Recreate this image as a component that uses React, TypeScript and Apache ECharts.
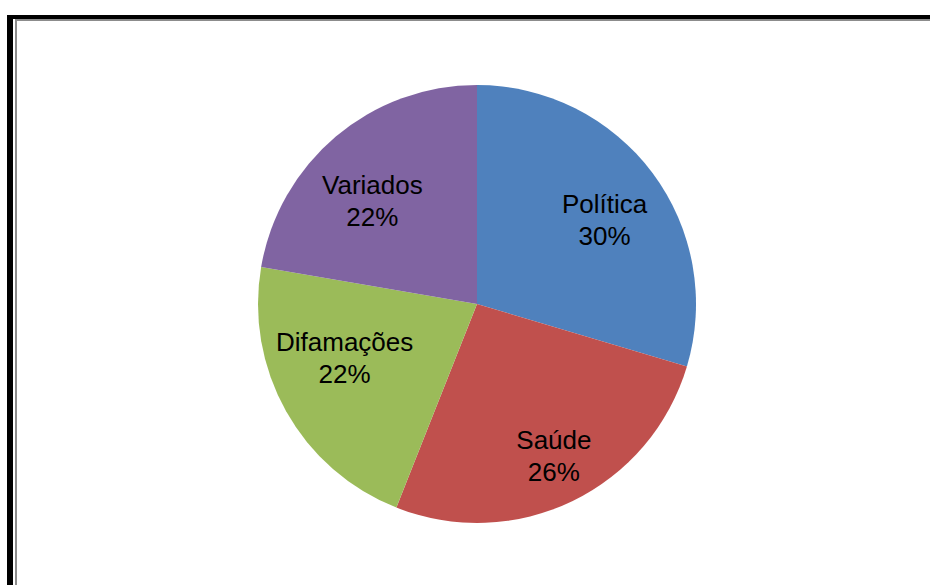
import React, { useEffect, useRef } from "react";
import * as echarts from "echarts";

const categories = ["Política", "Saúde", "Difamações", "Variados"];
const values = [29.6, 26.4, 21.7, 22.3];
const colors = ["#4F81BD", "#C0504D", "#9BBB59", "#8064A2"];
// small label nudges (px) to mimic the original's label placement
const labelNudgeX = [5, 10, 1, -6];
const labelNudgeY = [7, 14, -21, 14];

export default function App() {
  const ref = useRef<HTMLDivElement>(null);
  useEffect(() => {
    if (!ref.current) return;
    const chart = echarts.init(ref.current, undefined, { renderer: "svg" });
    const data = categories.map((name, i) => ({
      name,
      value: values[i],
      itemStyle: { color: colors[i] },
    }));
    const total = values.reduce((a, b) => a + b, 0);
    chart.setOption({
      animation: false,
      backgroundColor: "#ffffff",
      graphic: [
        { type: "rect", z: 0, silent: true, shape: { x: 7, y: 15, width: 1000, height: 1000 }, style: { fill: "#000000" } },
        { type: "rect", z: 0, silent: true, shape: { x: 13, y: 19, width: 1000, height: 1000 }, style: { fill: "#ffffff" } },
        { type: "rect", z: 0, silent: true, shape: { x: 15, y: 19, width: 1000, height: 1000 }, style: { fill: "#8c8c8c" } },
        { type: "rect", z: 0, silent: true, shape: { x: 17, y: 21, width: 1000, height: 1000 }, style: { fill: "#ffffff" } },
      ],
      series: [
        {
          type: "pie",
          z: 5,
          center: [477, 304],
          radius: [0, 219],
          startAngle: 90,
          clockwise: true,
          label: { show: false },
          labelLine: { show: false },
          itemStyle: { borderWidth: 0 },
          emphasis: { disabled: true },
          data,
        },
        {
          type: "pie",
          z: 6,
          silent: true,
          center: [477, 304],
          radius: [81, 219],
          startAngle: 90,
          clockwise: true,
          itemStyle: { color: "rgba(0,0,0,0)", borderWidth: 0 },
          emphasis: { disabled: true },
          label: {
            show: true,
            position: "inside",
            color: "#000000",
            fontSize: 26,
            lineHeight: 32,
            fontFamily: "'Liberation Sans', Arial, sans-serif",
            formatter: (p: any) => `${p.name}\n${Math.round((p.value / total) * 100)}%`,
          },
          labelLayout: (p: any) => ({
            dx: labelNudgeX[p.dataIndex] || 0,
            dy: labelNudgeY[p.dataIndex] || 0,
          }),
          labelLine: { show: false },
          data: categories.map((name, i) => ({ name, value: values[i] })),
        },
      ],
    });
    return () => chart.dispose();
  }, []);
  return (
    <div
      ref={ref}
      style={{ position: "absolute", left: 0, top: 0, width: 930, height: 585 }}
    />
  );
}
